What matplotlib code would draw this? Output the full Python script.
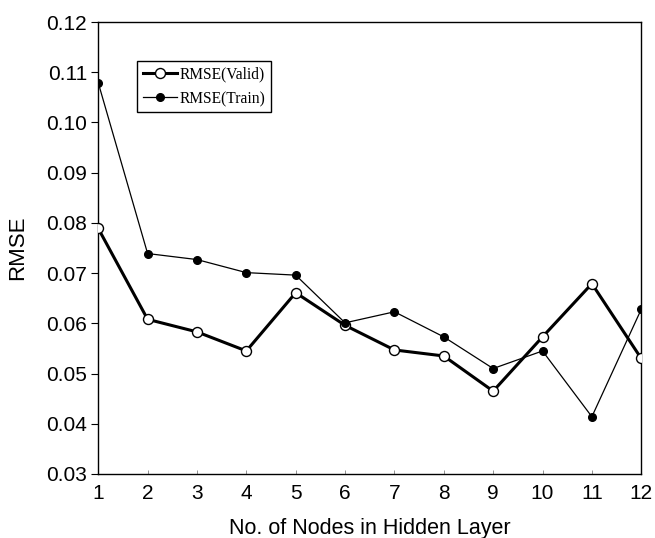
import matplotlib.pyplot as plt
import numpy as np

nodes = [1, 2, 3, 4, 5, 6, 7, 8, 9, 10, 11, 12]
rmse_valid = [0.0789, 0.0608, 0.0583, 0.0545, 0.0661, 0.0596, 0.0547, 0.0535, 0.0465, 0.0573, 0.0679, 0.0530]
rmse_train = [0.1079, 0.0739, 0.0727, 0.0701, 0.0696, 0.0601, 0.0623, 0.0573, 0.0510, 0.0545, 0.0414, 0.0628]
yticks = [0.03, 0.04, 0.05, 0.06, 0.07, 0.08, 0.09, 0.10, 0.11, 0.12]

plt.rcParams['font.family'] = ['Liberation Sans', 'DejaVu Sans']

fig = plt.figure(figsize=(6.55, 5.38), dpi=100)
ax = fig.add_axes([0.150, 0.119, 0.829, 0.840])

ax.plot(nodes, rmse_valid, color='black', lw=2.2, marker='o', ms=7.2,
        mfc='white', mec='black', mew=1.0, label='RMSE(Valid)', zorder=3)
ax.plot(nodes, rmse_train, color='black', lw=0.9, marker='o', ms=5.5,
        mfc='black', mec='black', label='RMSE(Train)', zorder=4)

ax.set_xlim(1, 12)
ax.set_ylim(0.03, 0.12)
ax.set_xticks(nodes)
ax.set_yticks(yticks)
ax.set_yticklabels(['%.2f' % v for v in yticks])
ax.tick_params(axis='both', labelsize=15)
ax.tick_params(axis='y', direction='out', length=5, width=0.8, pad=3)
ax.tick_params(axis='x', direction='in', length=3, width=0.6, color='gray', pad=7)
for s in ax.spines.values():
    s.set_linewidth(1.0)

ax.set_xlabel('No. of Nodes in Hidden Layer', fontsize=15.5, labelpad=11)
ax.set_ylabel('RMSE', fontsize=16, labelpad=13)

leg = ax.legend(loc='upper left', bbox_to_anchor=(0.072, 0.914), frameon=True,
                fancybox=False, edgecolor='black', framealpha=1,
                prop={'family': 'Liberation Serif', 'size': 11.2},
                handlelength=2.2, handletextpad=0.15, borderpad=0.35,
                labelspacing=0.55, borderaxespad=0)
leg.get_frame().set_linewidth(1.0)

fig.savefig('out.png', dpi=100)
